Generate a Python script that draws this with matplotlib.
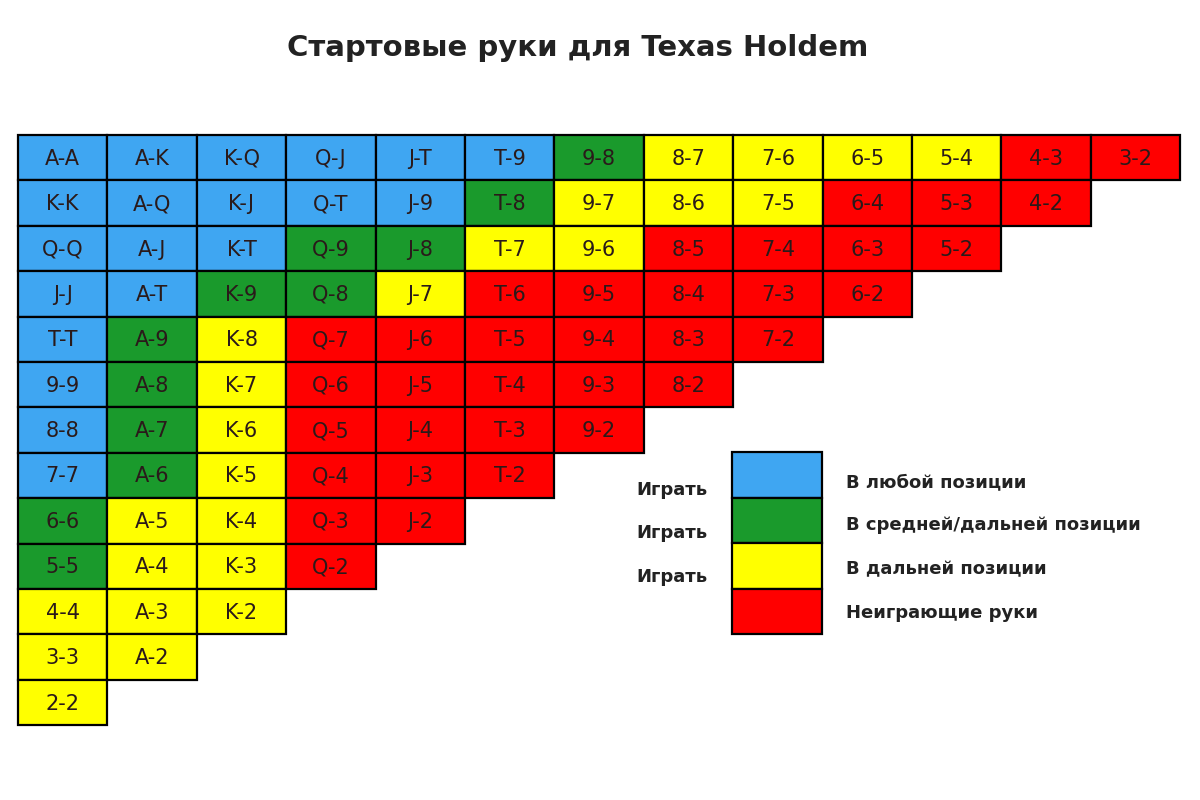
import matplotlib.pyplot as plt
from matplotlib.patches import Rectangle

title = "Стартовые руки для Texas Holdem"

columns = [
    ["A-A", "K-K", "Q-Q", "J-J", "T-T", "9-9", "8-8", "7-7", "6-6", "5-5", "4-4", "3-3", "2-2"],
    ["A-K", "A-Q", "A-J", "A-T", "A-9", "A-8", "A-7", "A-6", "A-5", "A-4", "A-3", "A-2"],
    ["K-Q", "K-J", "K-T", "K-9", "K-8", "K-7", "K-6", "K-5", "K-4", "K-3", "K-2"],
    ["Q-J", "Q-T", "Q-9", "Q-8", "Q-7", "Q-6", "Q-5", "Q-4", "Q-3", "Q-2"],
    ["J-T", "J-9", "J-8", "J-7", "J-6", "J-5", "J-4", "J-3", "J-2"],
    ["T-9", "T-8", "T-7", "T-6", "T-5", "T-4", "T-3", "T-2"],
    ["9-8", "9-7", "9-6", "9-5", "9-4", "9-3", "9-2"],
    ["8-7", "8-6", "8-5", "8-4", "8-3", "8-2"],
    ["7-6", "7-5", "7-4", "7-3", "7-2"],
    ["6-5", "6-4", "6-3", "6-2"],
    ["5-4", "5-3", "5-2"],
    ["4-3", "4-2"],
    ["3-2"],
]
classes = [
    "BBBBBBBBGGYYY",
    "BBBBGGGGYYYY",
    "BBBGYYYYYYY",
    "BBGGRRRRRR",
    "BBGYRRRRR",
    "BGYRRRRR",
    "GYYRRRR",
    "YYRRRR",
    "YYRRR",
    "YRRR",
    "YRR",
    "RR",
    "R",
]
colors = {"B": "#3fa6f2", "G": "#1a9a2c", "Y": "#ffff00", "R": "#ff0000"}

legend_keys = ["B", "G", "Y", "R"]
legend_left = ["Играть", "Играть", "Играть", ""]
legend_right = ["В любой позиции", "В средней/дальней позиции",
                "В дальней позиции", "Неиграющие руки"]

fig = plt.figure(figsize=(12, 8), dpi=100)
ax = fig.add_axes([0, 0, 1, 1])
ax.set_xlim(0, 1200)
ax.set_ylim(800, 0)
ax.axis("off")

x0, y0, cw, ch = 18, 135, 89.4, 45.4
for c, (labels, cls) in enumerate(zip(columns, classes)):
    for r, (lab, k) in enumerate(zip(labels, cls)):
        x = x0 + c * cw
        y = y0 + r * ch
        ax.add_patch(Rectangle((x, y), cw, ch, facecolor=colors[k],
                               edgecolor="black", lw=1.6))
        ax.text(x + cw / 2, y + ch / 2 + 1, lab, ha="center", va="center",
                fontsize=15, color="#2a1a1a")

ax.text(578, 48, title, ha="center", va="center", fontsize=21,
        fontweight="bold", color="#222222")

lx, ly, lw_, lh = 732, 452, 90, 45.5
for i, k in enumerate(legend_keys):
    y = ly + i * lh
    ax.add_patch(Rectangle((lx, y), lw_, lh, facecolor=colors[k],
                           edgecolor="black", lw=1.6))
    if legend_left[i]:
        ax.text(707, y + 38 - i * 2, legend_left[i], ha="right", va="center",
                fontsize=13, fontweight="bold", color="#222222")
    ax.text(846, y + 30 - i * 2, legend_right[i], ha="left", va="center",
            fontsize=13, fontweight="bold", color="#222222")

fig.savefig("out.png", dpi=100, facecolor="white")
